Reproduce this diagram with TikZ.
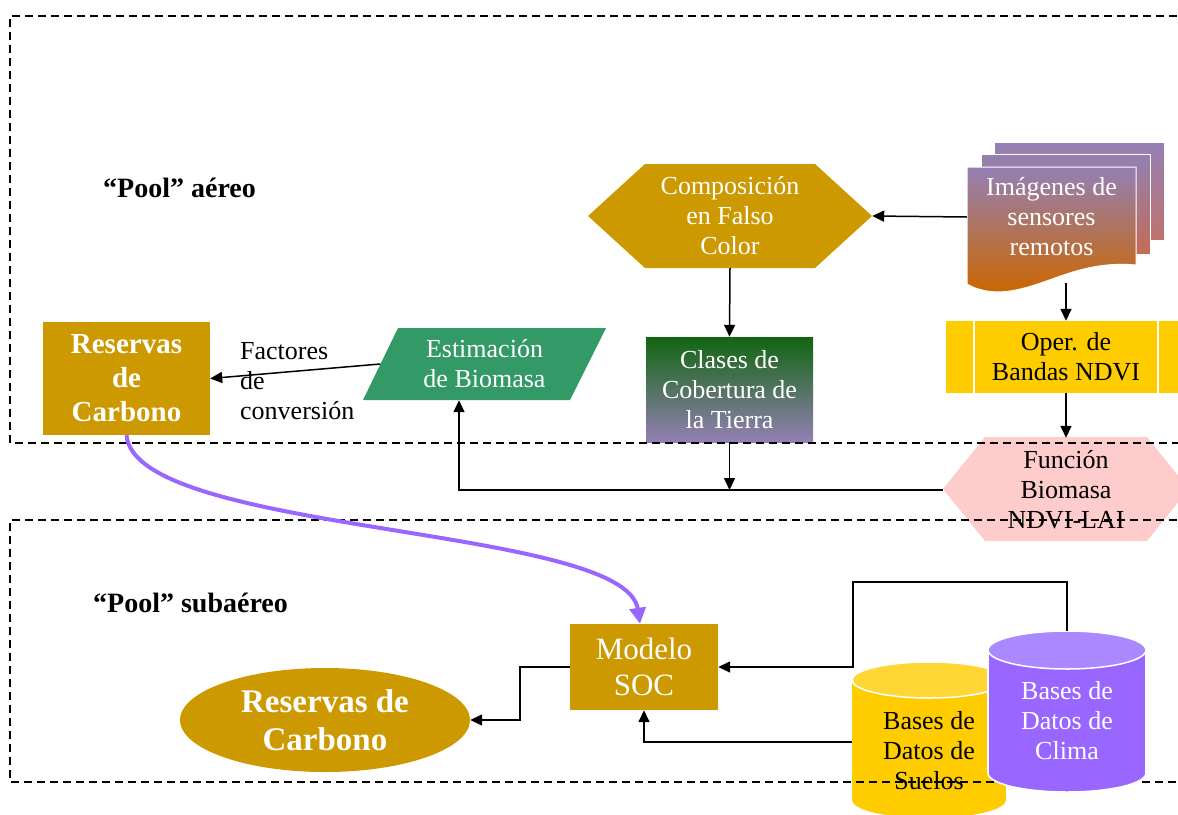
\documentclass[tikz,border=0pt]{standalone}
\usepackage{fontspec}
\setmainfont{Liberation Serif}
\usetikzlibrary{shapes.geometric,arrows.meta}
\definecolor{gold}{RGB}{204,153,0}
\definecolor{ndviyellow}{RGB}{255,204,0}
\definecolor{ltyellow}{RGB}{255,214,51}
\definecolor{pinkfill}{RGB}{255,204,204}
\definecolor{estgreen}{RGB}{51,153,102}
\definecolor{climapurple}{RGB}{153,102,255}
\definecolor{climatop}{RGB}{170,136,255}
\definecolor{dkgreen}{RGB}{17,102,17}
\definecolor{lav}{RGB}{148,128,180}
\definecolor{docorange}{RGB}{204,102,0}
\definecolor{docback}{RGB}{190,115,110}
\definecolor{docmid}{RGB}{195,108,85}
\begin{document}
\begin{tikzpicture}[x=1pt,y=-1pt,
  txt/.style={font=\fontsize{26}{30}\selectfont, align=center, inner sep=0pt},
  boldtxt/.style={font=\fontsize{29}{34}\selectfont\bfseries, align=center, inner sep=0pt},
  arr/.style={line width=1.5pt, -{Triangle[length=12pt,width=11pt]}},
  frameline/.style={line width=1.8pt, dash pattern=on 8pt off 5pt},
  purplearr/.style={line width=4pt, climapurple, -{Triangle[length=16pt,width=16pt]}}]
\useasboundingbox (0,0) rectangle (1178,814);

% ---- upper region ----
\node[anchor=west, font=\fontsize{28}{32}\selectfont\bfseries, inner sep=0pt] (poolA) at (103,188) {“Pool” aéreo};

% documents stack
\shade[top color=lav, bottom color=docback, draw=white, line width=1pt] (994,142) rectangle (1164,240);
\shade[top color=lav, bottom color=docmid, draw=white, line width=1pt] (981,154) rectangle (1150,254);
\shade[top color=lav, bottom color=docorange, draw=white, line width=1pt] (967,167) -- (1136,167) -- (1136,265) .. controls (1080,260) and (1050,285) .. (1010,291) .. controls (990,294) and (975,289) .. (967,284) -- cycle;
\node[txt, text=white, minimum width=169pt, minimum height=132pt] (img) at (1051.5,217) {Imágenes de\\sensores\\remotos};

% Composicion hexagon
\fill[gold] (588,216) -- (645,164) -- (815,164) -- (872,216) -- (815,268) -- (645,268) -- cycle;
\node[txt, text=white, minimum width=284pt, minimum height=104pt] (comp) at (730,216) {Composición\\en Falso\\Color};

% Oper. de Bandas
\fill[ndviyellow] (946,321) rectangle (1186,393);
\node[txt, minimum width=240pt, minimum height=72pt] (oper) at (1066,357) {Oper. de\\Bandas NDVI};
\draw[white, line width=1.5pt] ([xshift=28pt]oper.north west) -- ([xshift=28pt]oper.south west);
\draw[white, line width=1.5pt] ([xshift=-28pt]oper.north east) -- ([xshift=-28pt]oper.south east);

% Clases de Cobertura
\shade[top color=dkgreen, bottom color=lav] (646,337) rectangle (813,442);
\node[txt, text=white, minimum width=167pt, minimum height=105pt] (cla) at (729.5,389.5) {Clases de\\Cobertura de\\la Tierra};

% Estimacion de Biomasa
\fill[estgreen] (398,328) -- (606,328) -- (570,400) -- (363,400) -- cycle;
\node[txt, text=white, minimum width=208pt, minimum height=72pt] (est) at (484.5,364) {Estimación\\de Biomasa};

% Reservas de Carbono (box)
\node[boldtxt, fill=gold, text=white, minimum width=167pt, minimum height=113pt] (res) at (126.5,378.5) {Reservas\\de\\Carbono};

\node[txt, align=left, anchor=west] (fac) at (240,381) {Factores\\de\\conversión};

% Funcion Biomasa hexagon
\fill[pinkfill] (943,489) -- (985,437) -- (1147,437) -- (1189,489) -- (1147,541) -- (985,541) -- cycle;
\node[txt, minimum width=246pt, minimum height=104pt] (fun) at (1066,490) {Función\\Biomasa\\NDVI-LAI};

% connectors upper
\draw[arr] (img.west) -- (comp.east);
\draw[arr] ([xshift=14.5pt]img.south) -- (oper.north);
\draw[arr] (oper.south) -- (fun.north);
\draw[arr] (comp.south) -- (cla.north);
\draw[arr] (cla.south) -- (cla.south |- fun.west);
\draw[arr] (fun.west) -| ([xshift=-25.5pt]est.south);
\draw[arr] (est.west) -- (res.east);

% ---- lower region ----
\node[anchor=west, font=\fontsize{28}{32}\selectfont\bfseries, inner sep=0pt] (poolB) at (93,603) {“Pool” subaéreo};

\node[fill=gold, text=white, font=\fontsize{31}{36}\selectfont, align=center, inner sep=0pt, minimum width=148pt, minimum height=86pt] (mod) at (644,667) {Modelo\\SOC};
\node[ellipse, fill=gold, text=white, font=\fontsize{33}{38}\selectfont\bfseries, align=center, inner sep=0pt, minimum width=290pt, minimum height=104pt] (ell) at (325,720) {Reservas de\\Carbono};

% Suelos cylinder
\fill[ndviyellow] (929,800) ellipse (77 and 18);
\fill[ndviyellow] (852,680) rectangle (1006,800);
\filldraw[fill=ltyellow, draw=white, line width=1.5pt] (929,680) ellipse (77 and 18);
\node[txt, minimum width=150pt, minimum height=90pt] (sue) at (929,751) {Bases de\\Datos de\\Suelos};

% frames
\draw[frameline] (1190,16) -- (10,16) -- (10,443) -- (1190,443);
\draw[frameline] (1190,520) -- (10,520) -- (10,782) -- (1190,782);

% Clima cylinder
\filldraw[fill=climapurple, draw=white, line width=1.5pt] (1067,773) ellipse (79 and 19);
\fill[climapurple] (988,650) rectangle (1146,773);
\draw[white, line width=1.5pt] (988,650) -- (988,773);
\draw[white, line width=1.5pt] (1146,650) -- (1146,773);
\filldraw[fill=climatop, draw=white, line width=1.5pt] (1067,650) ellipse (79 and 19);
\node[txt, text=white, minimum width=150pt, minimum height=90pt] (cli) at (1067,721) {Bases de\\Datos de\\Clima};

% connectors lower
\coordinate (clitop) at (1067,631);
\coordinate (k1) at (853,582);
\coordinate (suel) at (852,742);
\draw[arr] (clitop) |- (k1) |- (mod.east);
\draw[arr] (suel) -| (mod.south);
\draw[arr] (mod.west) -- ++(-50,0) |- (ell.east);

\draw[purplearr] (res.south) .. controls (135,535) and (625,525) .. ([xshift=-4pt]mod.north);
\end{tikzpicture}
\end{document}
